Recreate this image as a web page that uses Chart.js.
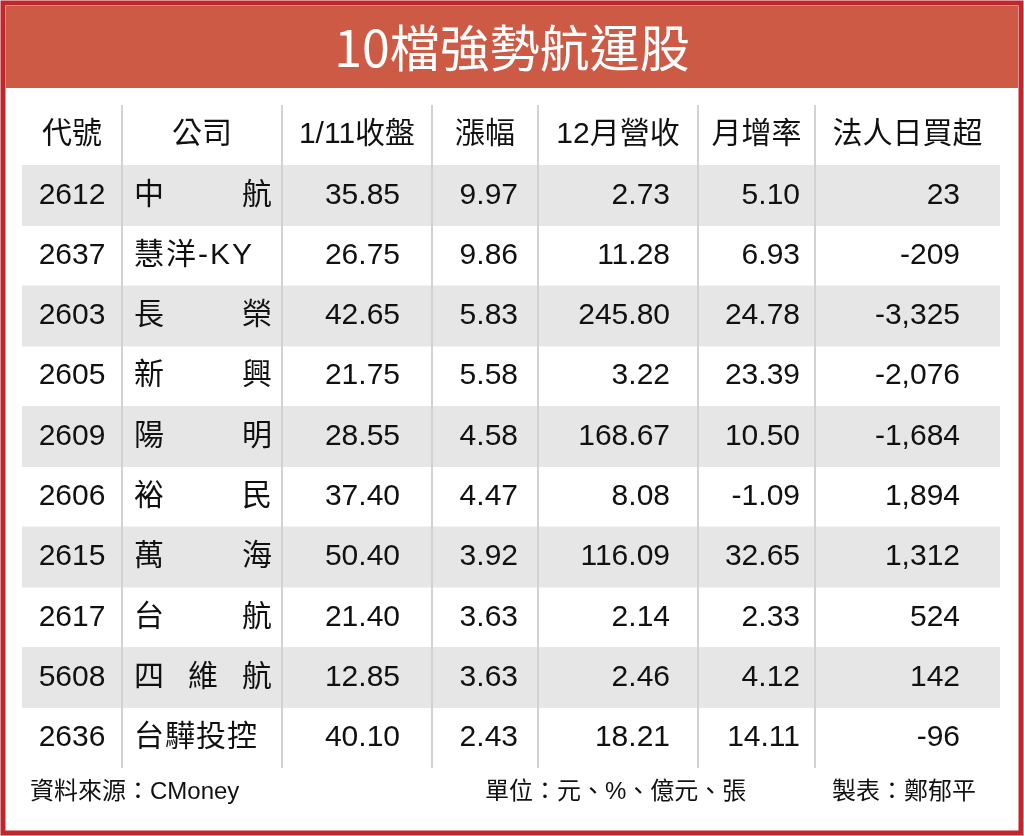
<!DOCTYPE html>
<html><head><meta charset="utf-8">
<script src="https://cdn.jsdelivr.net/npm/chart.js@4"></script>
<style>html,body{margin:0;padding:0;background:#fff}#wrap{width:1024px;height:836px}</style>
</head><body><div id="wrap"><canvas id="c"></canvas></div>
<script>
const title = '10檔強勢航運股';
const headers = ['代號', '公司', '1/11收盤', '漲幅', '12月營收', '月增率', '法人日買超'];
const codes = ['2612', '2637', '2603', '2605', '2609', '2606', '2615', '2617', '5608', '2636'];
const companies = ['中航', '慧洋-KY', '長榮', '新興', '陽明', '裕民', '萬海', '台航', '四維航', '台驊投控'];
const closes = ['35.85', '26.75', '42.65', '21.75', '28.55', '37.40', '50.40', '21.40', '12.85', '40.10'];
const changes = ['9.97', '9.86', '5.83', '5.58', '4.58', '4.47', '3.92', '3.63', '3.63', '2.43'];
const revenues = ['2.73', '11.28', '245.80', '3.22', '168.67', '8.08', '116.09', '2.14', '2.46', '18.21'];
const monthGrowth = ['5.10', '6.93', '24.78', '23.39', '10.50', '-1.09', '32.65', '2.33', '4.12', '14.11'];
const netBuy = ['23', '-209', '-3,325', '-2,076', '-1,684', '1,894', '1,312', '524', '142', '-96'];
const footer = ['資料來源：CMoney', '單位：元、%、億元、張', '製表：鄭郁平'];

// column edges in x-scale units
const colEdges = [22, 122, 282, 432, 538, 698, 815, 1000];
const rowLabels = ['header'].concat(codes);
const FONT = '"Liberation Sans", "Noto Sans CJK TC", sans-serif';

const tablePlugin = {
  id: 'table',
  beforeDraw(chart) {
    const ctx = chart.ctx;
    ctx.save();
    ctx.fillStyle = '#fff';
    ctx.fillRect(0, 0, 1024, 836);
    ctx.fillStyle = '#cd5a45';
    ctx.fillRect(6, 6, 1012, 82);
    ctx.fillStyle = '#fff';
    ctx.font = '400 50px "Noto Sans CJK TC", sans-serif';
    ctx.textAlign = 'center';
    ctx.textBaseline = 'middle';
    ctx.fillText(title, 512, 48);
    ctx.restore();
  },
  afterDatasetsDraw(chart) {
    const ctx = chart.ctx, x = chart.scales.x, y = chart.scales.y;
    const area = chart.chartArea;
    ctx.save();
    ctx.strokeStyle = '#d2d2d2';
    ctx.lineWidth = 2;
    colEdges.slice(1, -1).forEach(e => {
      const px = x.getPixelForValue(e);
      ctx.beginPath(); ctx.moveTo(px, area.top); ctx.lineTo(px, area.bottom); ctx.stroke();
    });
    ctx.fillStyle = '#111';
    ctx.textBaseline = 'middle';
    ctx.font = '30px ' + FONT;
    const L = i => x.getPixelForValue(colEdges[i]);
    headers.forEach((h, i) => {
      ctx.textAlign = 'center';
      ctx.fillText(h, (L(i) + L(i + 1)) / 2, y.getPixelForValue(0));
    });
    const rightPos = [null, null, 400, 518, 670, 800, 960];
    const cols = [closes, changes, revenues, monthGrowth, netBuy];
    codes.forEach((code, r) => {
      const py = y.getPixelForValue(r + 1);
      ctx.textAlign = 'center';
      ctx.fillText(code, (L(0) + L(1)) / 2, py);
      const name = companies[r];
      if (name.includes('-') || name.length >= 4) {
        ctx.textAlign = 'left';
        ctx.letterSpacing = name.includes('-') ? '2px' : '1px';
        ctx.fillText(name, L(1) + 12, py);
        ctx.letterSpacing = '0px';
      } else {
        const chars = [...name];
        const left = L(1) + 12, right = L(2) - 10, cw = 30;
        chars.forEach((ch, k) => {
          const cx = left + cw / 2 + k * (right - left - cw) / (chars.length - 1);
          ctx.textAlign = 'center';
          ctx.fillText(ch, cx, py);
        });
      }
      ctx.textAlign = 'right';
      cols.forEach((col, c) => ctx.fillText(col[r], x.getPixelForValue(rightPos[c + 2]), py));
    });
    ctx.font = '24px ' + FONT;
    ctx.textAlign = 'left';
    ctx.fillText(footer[0], 30, 792);
    ctx.fillText(footer[1], 485, 792);
    ctx.fillText(footer[2], 832, 792);
    ctx.strokeStyle = '#c0272d';
    ctx.lineWidth = 5;
    ctx.strokeRect(3, 3, 1018, 830);
    ctx.restore();
  }
};

new Chart(document.getElementById('c'), {
  type: 'bar',
  data: {
    labels: rowLabels,
    datasets: [{
      data: rowLabels.map((r, i) => (i % 2 === 1 ? [colEdges[0], colEdges[7]] : null)),
      backgroundColor: '#e6e6e6',
      barPercentage: 1,
      categoryPercentage: 1,
      borderWidth: 0
    }]
  },
  options: {
    indexAxis: 'y',
    responsive: true,
    maintainAspectRatio: false,
    animation: false,
    layout: { padding: { left: 22, right: 24, top: 105, bottom: 68 } },
    plugins: { legend: { display: false }, tooltip: { enabled: false } },
    scales: {
      x: { type: 'linear', min: colEdges[0], max: colEdges[7], display: false },
      y: { type: 'category', display: false, grid: { display: false } }
    }
  },
  plugins: [tablePlugin]
});
</script></body></html>
